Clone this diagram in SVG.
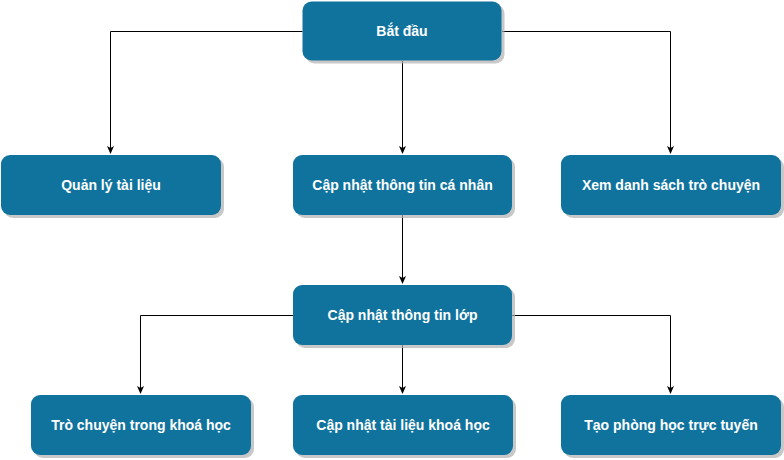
<svg xmlns="http://www.w3.org/2000/svg" width="784" height="460" viewBox="0 0 784 460">
<style>
.n rect.b{fill:#10739E;}
.n rect.s{fill:#b0b0b0;opacity:0.7;}
.n text{font-family:"Liberation Sans",Arial,sans-serif;font-size:14px;font-weight:bold;fill:#ffffff;text-anchor:middle;dominant-baseline:central;}
.c path{fill:none;stroke:#000;stroke-width:1;}
</style>
<defs>
<marker id="a" markerWidth="8" markerHeight="8" refX="7" refY="4" orient="auto" markerUnits="userSpaceOnUse">
<path d="M0,0.5 L8,4 L0,7.5 L2,4 Z" fill="#000"/>
</marker>
</defs>
<rect width="784" height="460" fill="#fff"/>
<g class="c" id="connectors">
<path d="M302.5,31.5 H110.5 V153" marker-end="url(#a)"/>
<path d="M402.5,61 V153" marker-end="url(#a)"/>
<path d="M502,31.5 H670.5 V153" marker-end="url(#a)"/>
<path d="M402.5,215 V283" marker-end="url(#a)"/>
<path d="M293,315.5 H140.5 V393" marker-end="url(#a)"/>
<path d="M402.5,345 V393" marker-end="url(#a)"/>
<path d="M512,315.5 H670.5 V393" marker-end="url(#a)"/>
</g>
<g class="n" id="n1"><rect class="s" x="305.5" y="4.5" width="199" height="59" rx="9"/><rect class="b" x="302.5" y="1.5" width="199" height="59" rx="9"/><text x="402" y="31">Bắt đầu</text></g>
<g class="n" id="n2"><rect class="s" x="4" y="158" width="220" height="60" rx="9"/><rect class="b" x="1" y="155" width="220" height="60" rx="9"/><text x="111" y="185">Quản lý tài liệu</text></g>
<g class="n" id="n3"><rect class="s" x="296" y="158" width="219" height="60" rx="9"/><rect class="b" x="293" y="155" width="219" height="60" rx="9"/><text x="402.5" y="185">Cập nhật thông tin cá nhân</text></g>
<g class="n" id="n4"><rect class="s" x="564" y="158" width="220" height="60" rx="9"/><rect class="b" x="561" y="155" width="220" height="60" rx="9"/><text x="671" y="185">Xem danh sách trò chuyện</text></g>
<g class="n" id="n5"><rect class="s" x="296" y="288" width="219" height="60" rx="9"/><rect class="b" x="293" y="285" width="219" height="60" rx="9"/><text x="402.5" y="315">Cập nhật thông tin lớp</text></g>
<g class="n" id="n6"><rect class="s" x="34" y="398" width="220" height="60" rx="9"/><rect class="b" x="31" y="395" width="220" height="60" rx="9"/><text x="141" y="425">Trò chuyện trong khoá học</text></g>
<g class="n" id="n7"><rect class="s" x="296" y="398" width="220" height="60" rx="9"/><rect class="b" x="293" y="395" width="220" height="60" rx="9"/><text x="403" y="425">Cập nhật tài liệu khoá học</text></g>
<g class="n" id="n8"><rect class="s" x="564" y="398" width="220" height="60" rx="9"/><rect class="b" x="561" y="395" width="220" height="60" rx="9"/><text x="671" y="425">Tạo phòng học trực tuyến</text></g>
</svg>
